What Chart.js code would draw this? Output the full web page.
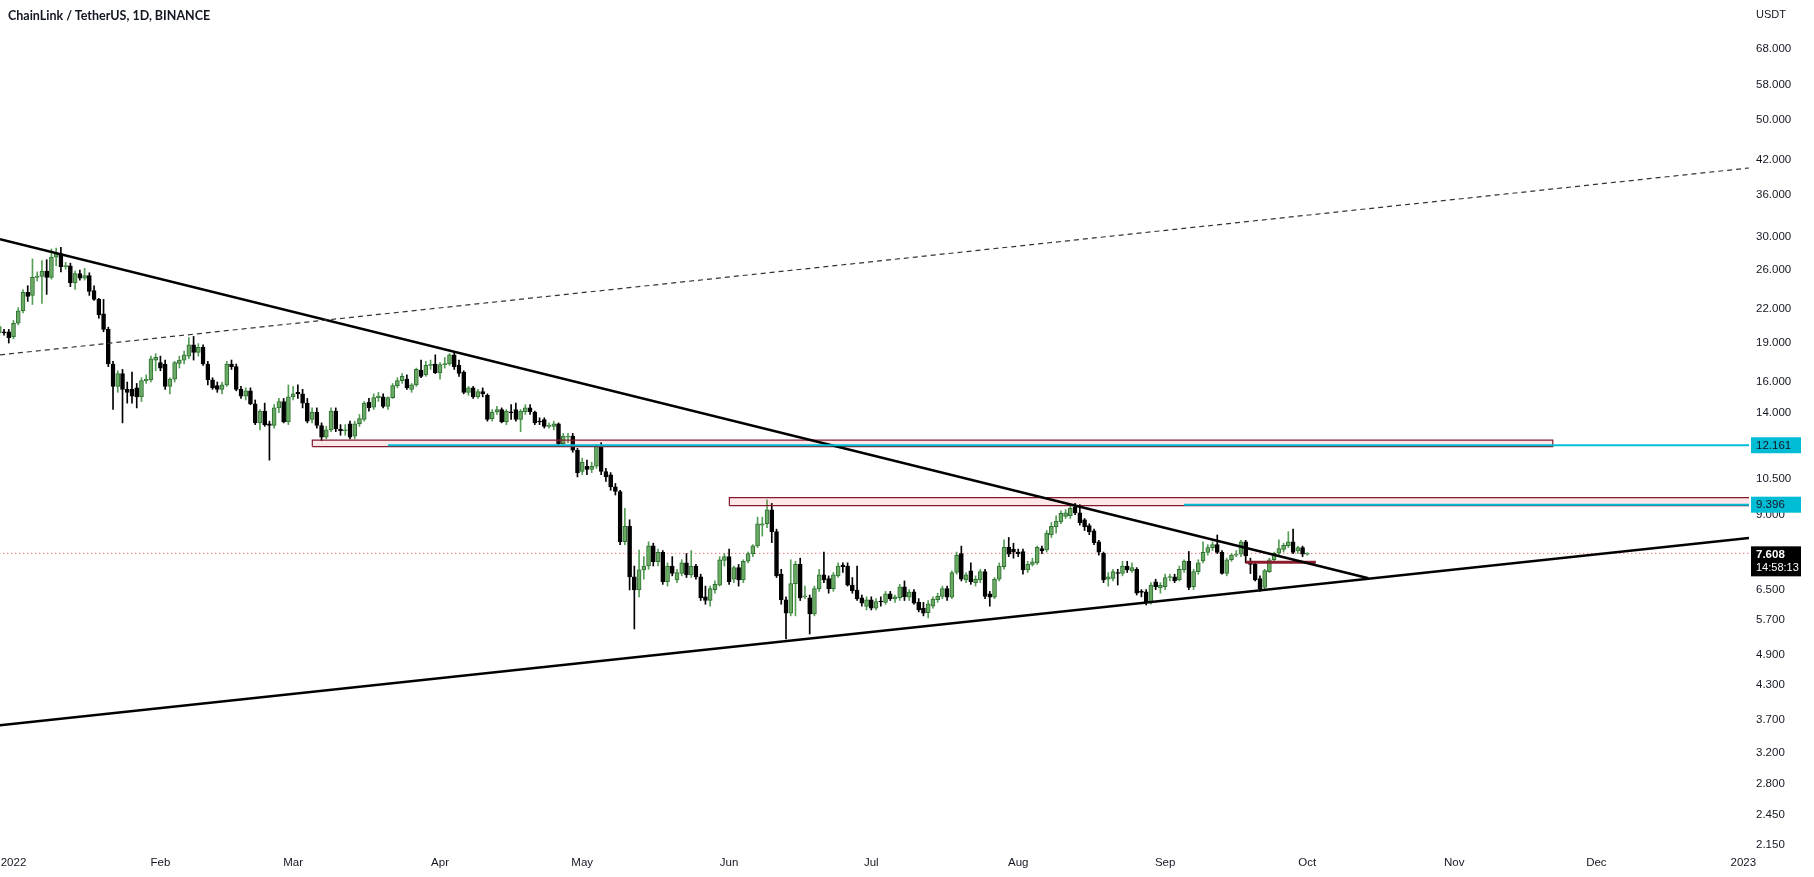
<!DOCTYPE html>
<html>
<head>
<meta charset="utf-8">
<title>ChainLink / TetherUS, 1D, BINANCE</title>
<script src="https://cdn.jsdelivr.net/npm/chart.js@4.4.1/dist/chart.umd.min.js"></script>
<style>
  html, body { margin: 0; padding: 0; background: #ffffff; }
  #wrap { position: relative; width: 1814px; height: 877px; overflow: hidden; }
  #title { position: absolute; left: 8px; top: 8px; font: bold 12.5px Lato, "Liberation Sans", sans-serif; color: #131722; }
  #unit { position: absolute; left: 1756px; top: 8px; font: 11px "Liberation Sans", sans-serif; color: #131722; }
</style>
</head>
<body>
<div id="wrap">
  <canvas id="chart" width="1814" height="877"></canvas>
  <div id="title">ChainLink / TetherUS, 1D, BINANCE</div>
  <div id="unit">USDT</div>
</div>
<script>
// Daily candles, first one is 29 Dec 2021 (day -3, day 0 = 1 Jan 2022)
const firstDay = -3;

const opens = [
    19.8, 19.9, 19.9,
    19.45, 20.65, 21.8, 23.6, 23.3, 25.2, 25.3, 25.9, 25.2, 27.5,
    27.9, 26.4, 26.5, 24.6, 25.6, 25.1, 25.4, 23.8, 22.9, 21.5,
    20.1, 17.3, 15.7, 16.6, 15.5, 15.5, 15.6, 15.0, 16.1, 16.15,
    17.6, 17.4, 17.3, 15.7, 16.2, 17.35, 17.6, 17.9, 18.8, 18.2,
    18.6, 17.3, 16.15, 15.75, 15.5, 15.8, 17.3, 17.1, 15.5, 15.05,
    15.4, 14.55, 13.4, 14.1, 13.35, 13.25, 14.3, 14.7, 13.45, 15.0,
    15.3, 15.2, 14.6, 13.6, 14.05, 13.25, 12.6, 13.0, 14.1, 13.05,
    12.95, 13.35, 12.65, 13.35, 13.6, 14.65, 14.35, 14.95, 15.0, 14.4,
    14.95, 15.75, 16.1, 16.2, 15.5, 15.8, 16.85, 16.5, 17.2, 17.3,
    16.65, 17.25, 17.3, 18.0, 17.2, 16.7, 15.3, 15.6, 15.0, 15.35,
    15.1, 13.65, 14.05, 14.2, 13.45, 14.05, 14.2, 13.6, 14.05, 14.3,
    14.05, 13.5, 13.6, 13.2, 13.2, 13.35, 12.25, 12.6, 12.65, 11.9,
    10.85, 11.1, 10.95, 11.1, 12.1, 10.85, 10.7, 10.15, 9.95, 8.0,
    8.55, 6.87, 6.49, 7.08, 7.2, 7.86, 7.34, 7.64, 6.73, 7.2,
    6.78, 6.97, 7.3, 6.93, 7.2, 6.87, 6.3, 6.2, 6.5, 6.63,
    7.38, 7.5, 6.8, 7.15, 6.78, 7.35, 7.6, 7.86, 8.6, 8.65,
    9.19, 8.36, 6.95, 6.22, 5.87, 6.67, 7.25, 6.3, 6.27, 5.85,
    6.53, 6.93, 6.82, 6.53, 6.9, 7.22, 7.2, 6.63, 6.49, 6.27,
    6.04, 6.22, 6.0, 6.17, 6.15, 6.38, 6.24, 6.28, 6.58, 6.29,
    6.44, 6.15, 6.0, 5.88, 6.05, 6.22, 6.31, 6.53, 6.29, 7.0,
    7.6, 6.78, 7.05, 6.70, 6.78, 7.03, 6.38, 6.29, 6.8, 7.18,
    7.81, 7.74, 7.65, 7.67, 7.08, 7.25, 7.3, 7.77, 7.72, 8.24,
    8.53, 8.72, 8.93, 8.96, 9.29, 9.07, 8.80, 8.58, 8.39, 8.0,
    7.61, 6.80, 6.82, 7.0, 6.97, 7.2, 7.05, 7.10, 6.45, 6.44,
    6.15, 6.72, 6.55, 6.58, 6.85, 6.87, 6.78, 7.08, 7.36, 6.58,
    7.03, 7.36, 7.64, 7.8, 7.9, 7.64, 6.97, 7.4, 7.55, 7.58,
    8.0, 7.33, 7.25, 6.82, 6.56, 7.03, 7.4, 7.61, 7.74, 7.86,
    8.0, 7.69, 7.8, 7.58
];

const highs = [
    20.6, 20.1, 20.1,
    20.9, 22.1, 23.9, 24.3, 27.3, 25.8, 27.1, 27.2, 28.5, 28.6,
    28.7, 26.9, 26.8, 25.9, 26.0, 26.2, 25.7, 24.3, 23.0, 22.9,
    20.3, 17.5, 16.8, 16.9, 16.0, 16.7, 15.9, 16.3, 16.5, 17.9,
    18.1, 17.9, 17.6, 16.3, 17.5, 17.9, 18.3, 19.4, 19.5, 18.9,
    18.8, 17.5, 16.3, 16.0, 16.0, 17.5, 17.6, 17.3, 15.7, 15.6,
    15.6, 14.8, 14.2, 14.6, 13.5, 14.5, 14.9, 14.9, 15.8, 15.7,
    15.8, 15.5, 14.9, 14.3, 14.3, 13.4, 13.2, 14.3, 14.3, 13.3,
    13.3, 13.5, 13.5, 13.9, 14.7, 14.9, 15.2, 15.3, 15.2, 15.0,
    15.9, 16.3, 16.6, 16.5, 15.9, 17.0, 17.6, 17.5, 17.6, 18.0,
    17.4, 17.8, 18.1, 18.2, 17.6, 16.8, 15.7, 15.7, 15.5, 15.6,
    15.2, 14.2, 14.4, 14.3, 14.2, 14.5, 14.6, 14.2, 14.5, 14.5,
    14.1, 13.7, 13.7, 13.4, 13.5, 13.4, 12.8, 12.8, 12.8, 12.0,
    11.5, 11.4, 11.3, 12.2, 12.3, 11.0, 10.8, 10.3, 10.0, 9.25,
    8.8, 7.2, 7.72, 7.5, 8.0, 7.95, 7.75, 7.7, 7.3, 7.5,
    7.1, 7.4, 7.6, 7.7, 7.25, 6.95, 6.6, 6.6, 6.75, 7.5,
    7.6, 7.75, 7.2, 7.25, 7.4, 7.65, 7.9, 8.9, 8.9, 9.6,
    9.45, 8.45, 7.1, 6.3, 7.4, 7.35, 7.45, 6.6, 6.35, 6.6,
    7.1, 7.65, 6.9, 7.0, 7.3, 7.3, 7.3, 6.85, 7.2, 6.35,
    6.3, 6.3, 6.25, 6.3, 6.45, 6.45, 6.35, 6.65, 6.75, 6.5,
    6.5, 6.25, 6.15, 6.2, 6.3, 6.4, 6.6, 6.6, 7.05, 7.65,
    7.85, 7.0, 7.3, 6.9, 7.1, 7.1, 6.45, 6.85, 7.3, 8.07,
    8.15, 7.95, 7.75, 7.75, 7.35, 7.45, 7.85, 7.85, 8.4, 8.7,
    8.95, 9.15, 9.2, 9.35, 9.45, 9.4, 8.85, 8.65, 8.45, 8.05,
    7.65, 7.0, 7.1, 7.1, 7.35, 7.35, 7.3, 7.15, 6.5, 6.5,
    6.7, 6.8, 6.7, 6.95, 6.95, 6.95, 7.2, 7.4, 7.67, 7.1,
    7.4, 8.0, 7.9, 8.0, 8.24, 7.7, 7.45, 7.6, 7.7, 8.05,
    8.05, 7.45, 7.3, 6.9, 7.1, 7.45, 7.65, 8.07, 7.95, 8.36,
    8.45, 7.85, 7.85, 7.63
];

const lows = [
    19.6, 19.6, 18.95,
    19.3, 20.5, 21.6, 22.7, 22.4, 24.8, 22.5, 23.4, 25.0, 26.5,
    25.8, 26.1, 24.2, 23.9, 24.9, 24.9, 23.3, 22.8, 21.1, 19.9,
    17.1, 14.2, 15.3, 13.4, 14.6, 14.6, 14.3, 14.7, 15.9, 16.0,
    16.8, 16.8, 15.5, 15.2, 16.0, 17.0, 17.3, 17.7, 17.6, 17.9,
    17.2, 15.8, 15.5, 15.3, 15.2, 15.7, 16.9, 15.4, 14.9, 14.8,
    14.5, 13.3, 13.0, 13.2, 11.4, 13.1, 14.0, 13.4, 13.3, 14.8,
    14.9, 14.3, 13.4, 13.4, 13.1, 12.4, 12.5, 12.9, 12.9, 12.7,
    12.7, 12.5, 12.5, 13.2, 13.5, 14.1, 14.2, 14.7, 14.3, 14.2,
    14.9, 15.6, 15.9, 15.5, 15.3, 15.7, 16.3, 16.4, 16.9, 16.6,
    16.2, 17.0, 17.2, 16.9, 16.4, 15.2, 15.1, 14.9, 14.9, 15.0,
    13.5, 13.5, 13.9, 13.4, 13.3, 13.6, 13.5, 12.9, 13.9, 13.9,
    13.3, 13.3, 13.1, 13.1, 13.0, 12.2, 12.1, 12.3, 11.8, 10.6,
    10.7, 10.7, 10.8, 11.0, 10.7, 10.4, 10.0, 9.8, 7.9, 7.9,
    6.49, 5.48, 6.3, 6.8, 7.1, 7.2, 7.2, 6.65, 6.6, 6.9,
    6.7, 6.9, 6.85, 6.85, 6.8, 6.2, 6.1, 6.05, 6.4, 6.6,
    7.2, 6.65, 6.7, 6.6, 6.7, 7.3, 7.5, 7.8, 8.2, 8.5,
    7.97, 6.85, 6.1, 5.25, 5.8, 5.8, 6.2, 6.25, 5.36, 5.8,
    6.45, 6.7, 6.4, 6.45, 6.85, 7.0, 6.6, 6.4, 6.2, 6.05,
    5.95, 5.95, 5.95, 6.05, 6.1, 6.2, 6.15, 6.2, 6.2, 6.2,
    6.1, 5.9, 5.8, 5.75, 6.0, 6.15, 6.25, 6.2, 6.25, 6.95,
    6.75, 6.7, 6.65, 6.6, 6.7, 6.25, 6.05, 6.25, 6.75, 7.1,
    7.5, 7.45, 7.5, 6.95, 7.0, 7.2, 7.25, 7.6, 7.65, 8.15,
    8.3, 8.65, 8.85, 8.85, 9.0, 8.6, 8.4, 8.25, 7.9, 7.55,
    6.7, 6.6, 6.75, 6.63, 6.9, 7.0, 7.0, 6.35, 6.3, 6.08,
    6.1, 6.5, 6.4, 6.5, 6.75, 6.7, 6.75, 7.0, 6.5, 6.5,
    6.95, 7.3, 7.55, 7.7, 7.6, 6.95, 6.9, 7.35, 7.5, 7.5,
    7.3, 6.97, 6.75, 6.45, 6.5, 7.0, 7.35, 7.55, 7.65, 7.8,
    7.6, 7.6, 7.5, 7.55
];

const closes = [
    20.35, 19.8, 19.4,
    20.65, 21.8, 23.6, 23.2, 25.2, 25.35, 25.9, 25.2, 27.5, 27.9,
    26.4, 26.5, 24.6, 25.6, 25.1, 25.4, 23.7, 22.9, 21.4, 20.1,
    17.3, 15.7, 16.6, 15.5, 15.3, 15.05, 15.0, 16.1, 16.2, 17.7,
    17.8, 17.0, 15.7, 16.2, 17.4, 17.6, 18.0, 18.8, 18.2, 18.6,
    17.3, 16.15, 15.6, 15.5, 15.8, 17.3, 17.1, 15.5, 15.05, 15.4,
    14.55, 13.4, 14.1, 13.3, 13.25, 14.3, 14.7, 13.45, 15.0, 15.2,
    15.2, 14.6, 13.5, 14.05, 13.25, 12.6, 13.0, 14.1, 13.05, 12.95,
    13.0, 12.6, 13.35, 13.65, 14.6, 14.3, 14.95, 15.05, 14.4, 14.95,
    15.75, 16.1, 16.4, 15.6, 15.8, 16.9, 16.4, 17.2, 17.3, 16.65,
    17.25, 17.3, 18.0, 17.1, 16.6, 15.3, 15.6, 15.0, 15.35, 15.2,
    13.6, 14.05, 14.2, 13.45, 14.1, 14.0, 13.6, 14.1, 14.3, 14.05,
    13.4, 13.45, 13.2, 13.25, 13.35, 12.25, 12.65, 12.6, 11.9, 10.8,
    11.3, 10.95, 11.1, 12.1, 10.85, 10.6, 10.15, 9.95, 8.0, 8.55,
    6.87, 6.49, 7.08, 7.2, 7.86, 7.34, 7.64, 6.73, 7.2, 6.97,
    7.0, 7.3, 6.93, 7.2, 6.87, 6.27, 6.2, 6.53, 6.65, 7.4,
    7.5, 6.73, 7.15, 6.78, 7.35, 7.6, 7.86, 8.65, 8.65, 9.19,
    8.36, 6.9, 6.22, 5.87, 6.67, 7.25, 6.27, 6.32, 5.85, 6.53,
    6.93, 6.78, 6.53, 6.93, 7.2, 7.18, 6.63, 6.47, 6.24, 6.13,
    6.22, 6.0, 6.17, 6.16, 6.38, 6.24, 6.3, 6.58, 6.3, 6.43,
    6.13, 5.95, 5.87, 6.11, 6.24, 6.31, 6.53, 6.29, 7.0, 7.55,
    6.8, 6.93, 6.73, 6.80, 7.03, 6.31, 6.29, 6.8, 7.2, 7.81,
    7.58, 7.65, 7.6, 7.08, 7.25, 7.33, 7.81, 7.69, 8.31, 8.55,
    8.75, 9.05, 9.07, 9.25, 9.07, 8.69, 8.53, 8.35, 7.97, 7.65,
    6.78, 6.87, 7.03, 6.97, 7.2, 7.08, 7.15, 6.40, 6.42, 6.15,
    6.63, 6.58, 6.62, 6.85, 6.87, 6.76, 7.10, 7.36, 6.56, 7.03,
    7.30, 7.64, 7.8, 7.9, 7.64, 6.97, 7.4, 7.55, 7.58, 8.0,
    7.52, 7.25, 6.78, 6.53, 7.06, 7.4, 7.61, 7.77, 7.88, 8.0,
    7.64, 7.8, 7.58, 7.608
];

// Axis setup
const monthDays = [0, 31, 59, 90, 120, 151, 181, 212, 243, 273, 304, 334, 365];
const monthLabels = ['2022', 'Feb', 'Mar', 'Apr', 'May', 'Jun', 'Jul', 'Aug', 'Sep', 'Oct', 'Nov', 'Dec', '2023'];
const priceTicks = [68, 58, 50, 42, 36, 30, 26, 22, 19, 16, 14, 12, 10.5, 9, 6.5, 5.7, 4.9, 4.3, 3.7, 3.2, 2.8, 2.45, 2.15];
const viewStart = -2.85, viewEnd = 366.2;
const priceMin = 2.10, priceMax = 83.95;

// Drawings: [day, price] pairs
const upperTrend = [[-2.85, 29.72], [285.9, 6.83]];
const lowerTrend = [[-2.85, 3.607], [366.2, 8.136]];
const dashedTrend = [[-2.85, 18.0], [366.2, 40.5]];
const zoneA = [63.05, 324.8, 12.09, 12.43];   // from, to, low, high
const zoneB = [151.05, 400, 9.36, 9.69];
const levelA = 12.161, levelAFrom = 79;
const levelB = 9.396, levelBFrom = 247;
const shortLevel = [260, 274.8, 7.32];
const lastPrice = 7.608;
const countdown = '14:58:13';

const UP_FILL = '#6aaa64', UP_EDGE = '#2e7031', UP_WICK = '#559e55';
const DOWN = '#000000';
const CYAN = '#00bcd4';
const MAROON = '#7d1a2c';

const days = opens.map((_, i) => firstDay + i);
const isUp = days.map((_, i) => closes[i] >= opens[i]);

function pts(pairs) {
    return pairs.map(p => ({ x: p[0], y: p[1] }));
}

function lineSet(data, color, width, extra) {
    return Object.assign({
        type: 'line',
        data: data,
        borderColor: color,
        borderWidth: width,
        pointRadius: 0,
        fill: false,
        tension: 0,
        order: 1
    }, extra || {});
}

function zoneSets(z) {
    const [from, to, lo, hi] = z;
    return [
        lineSet(pts([[from, hi], [to, hi]]), 'rgba(0,0,0,0)', 0, {
            fill: { value: lo },
            backgroundColor: 'rgba(242,54,69,0.12)',
            order: 2
        }),
        lineSet(pts([[from, lo], [from, hi], [to, hi], [to, lo], [from, lo]]), MAROON, 1.2, { order: 2 })
    ];
}

const priceLabels = {
    id: 'priceLabels',
    afterDraw(chart) {
        const { ctx, chartArea, scales } = chart;
        const y = scales.y;
        const x0 = chartArea.right + 2;
        ctx.save();
        ctx.textBaseline = 'middle';
        ctx.textAlign = 'left';
        [levelA, levelB].forEach(v => {
            const py = y.getPixelForValue(v);
            ctx.fillStyle = CYAN;
            ctx.fillRect(x0, py - 8, 50, 16);
            ctx.fillStyle = '#131722';
            ctx.font = '11.5px "Liberation Sans", sans-serif';
            ctx.fillText(v.toFixed(3), x0 + 5, py + 0.5);
        });
        const py = y.getPixelForValue(lastPrice);
        ctx.fillStyle = '#000000';
        ctx.fillRect(x0, py - 7, 50, 30);
        ctx.fillStyle = '#ffffff';
        ctx.font = 'bold 11.5px "Liberation Sans", sans-serif';
        ctx.fillText(lastPrice.toFixed(3), x0 + 5, py + 1);
        ctx.font = '11px "Liberation Sans", sans-serif';
        ctx.fillText(countdown, x0 + 5, py + 15);
        ctx.restore();
    }
};

const tickFont = { family: '"Liberation Sans", sans-serif', size: 11.5 };

new Chart(document.getElementById('chart'), {
    type: 'bar',
    data: {
        datasets: [
            {
                data: days.map((d, i) => ({ x: d, y: [Math.min(lows[i], opens[i], closes[i]), Math.max(highs[i], opens[i], closes[i])] })),
                backgroundColor: isUp.map(u => u ? UP_WICK : DOWN),
                barThickness: 1,
                grouped: false,
                order: 4
            },
            {
                data: days.map((d, i) => ({ x: d, y: [Math.min(opens[i], closes[i]), Math.max(opens[i], closes[i])] })),
                backgroundColor: isUp.map(u => u ? UP_FILL : DOWN),
                borderColor: isUp.map(u => u ? UP_EDGE : DOWN),
                borderWidth: 1,
                borderSkipped: false,
                barThickness: 4,
                minBarLength: 1,
                grouped: false,
                order: 3
            },
            lineSet(pts([[viewStart - 1, lastPrice], [viewEnd + 1, lastPrice]]), '#f23645', 1, { borderDash: [1, 3], order: 5 }),
            ...zoneSets(zoneA),
            ...zoneSets(zoneB),
            lineSet(pts([[levelAFrom, levelA], [viewEnd + 10, levelA]]), CYAN, 2),
            lineSet(pts([[levelBFrom, levelB], [viewEnd + 10, levelB]]), CYAN, 2),
            lineSet(pts(dashedTrend), '#333333', 1.2, { borderDash: [5, 4] }),
            lineSet(pts(upperTrend), '#000000', 2.5),
            lineSet(pts(lowerTrend), '#000000', 2.5),
            lineSet(pts([[shortLevel[0], shortLevel[2]], [shortLevel[1], shortLevel[2]]]), '#8a1c2e', 3)
        ]
    },
    options: {
        responsive: false,
        animation: false,
        devicePixelRatio: 1,
        events: [],
        layout: { padding: 0 },
        plugins: {
            legend: { display: false },
            tooltip: { enabled: false }
        },
        scales: {
            x: {
                type: 'linear',
                min: viewStart,
                max: viewEnd,
                bounds: 'data',
                offset: false,
                grid: { display: false, drawTicks: false },
                border: { display: false },
                ticks: {
                    autoSkip: false,
                    maxRotation: 0,
                    padding: 6,
                    color: '#131722',
                    font: tickFont,
                    callback: function(value) {
                        const k = monthDays.indexOf(value);
                        return k >= 0 ? monthLabels[k] : '';
                    }
                },
                afterBuildTicks: function(scale) {
                    scale.ticks = monthDays.map(v => ({ value: v }));
                },
                afterFit: function(scale) {
                    scale.height = 27;
                    scale.paddingLeft = 0;
                    scale.paddingRight = 0;
                }
            },
            y: {
                type: 'logarithmic',
                position: 'right',
                min: priceMin,
                max: priceMax,
                bounds: 'data',
                grid: { display: false, drawTicks: false },
                border: { display: false },
                ticks: {
                    autoSkip: false,
                    padding: 7,
                    color: '#131722',
                    font: tickFont,
                    callback: function(value) {
                        return Number(value).toFixed(3);
                    }
                },
                afterBuildTicks: function(scale) {
                    scale.ticks = priceTicks.map(v => ({ value: v }));
                },
                afterFit: function(scale) {
                    scale.width = 65;
                    scale.paddingTop = 0;
                    scale.paddingBottom = 0;
                }
            }
        }
    },
    plugins: [priceLabels]
});
</script>
</body>
</html>
